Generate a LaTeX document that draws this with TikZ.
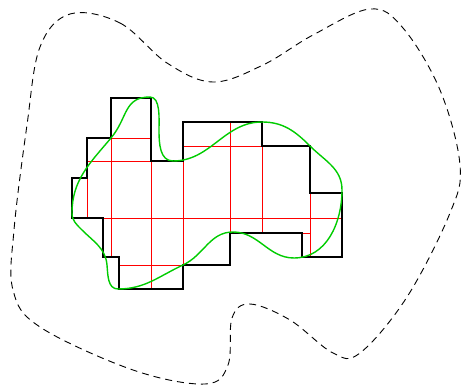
\documentclass[tikz,border=0pt]{standalone}
\usepackage{tikz}
\usetikzlibrary{calc}
\colorlet{curveGreen}{green!80!black}
\colorlet{cellRed}{red}

\begin{document}
\begin{tikzpicture}[x=1pt, y=1pt,
    outerdomain/.style={black, line width=0.9pt, dash pattern=on 7pt off 5pt},
    cellgrid/.style={cellRed, line width=0.7pt},
    cellunion/.style={black, line width=1.3pt, line join=miter},
    boundarycurve/.style={curveGreen, line width=1.4pt}]
    \useasboundingbox (0,0) rectangle (464,385);
    % outer domain
    \draw[outerdomain] plot[smooth cycle, tension=0.6] coordinates {
        (70,371) (120,362) (167,322) (213,303) (263,320) (313,350) (370,376)
        (403,357) (440,295) (460,220) (450,172) (407,88) (360,32) (333,32)
        (290,65) (250,81) (232,67) (228,20) (205,1) (133,15) (40,58)
        (13,95) (14,155) (27,260) (40,338)};
    % inner cell lines
    \draw[cellgrid] (87,224) -- (87,167)  (111,247) -- (111,128)  (151,247) -- (151,96)
        (183,239) -- (183,120)  (230,263) -- (230,152)  (262,239) -- (262,152)
        (310,192) -- (310,128)
        (111,247) -- (151,247)  (183,239) -- (310,239)  (87,224) -- (151,224)
        (72,167) -- (342,167)  (230,152) -- (310,152)  (119,120) -- (183,120);
    % union of cells
    \draw[cellunion] (111,287) -- (151,287) -- (151,224) -- (183,224) -- (183,263)
        -- (262,263) -- (262,239) -- (310,239) -- (310,192) -- (342,192)
        -- (342,128) -- (302,128) -- (302,152) -- (230,152) -- (230,120)
        -- (183,120) -- (183,96) -- (119,96) -- (119,128) -- (103,128)
        -- (103,167) -- (72,167) -- (72,207) -- (87,207) -- (87,247)
        -- (111,247) -- cycle;
    % boundary curve
    \draw[boundarycurve] (72,172) to[out=90, in=230] (111,247)
        to[out=50, in=180, looseness=1.2] (150,288)
        to[out=0, in=90, looseness=0.8] (159,255)
        to[out=-90, in=180] (173,224) to[out=0, in=180] (262,263)
        to[out=0, in=135] (310,239) to[out=-45, in=90] (342,195)
        to[out=-90, in=0] (294,127) to[out=180, in=0] (233,153)
        to[out=180, in=25] (183,120) to[out=205, in=0] (118,96)
        to[out=180, in=-85] (107,120) to[out=95, in=-45] (82,155)
        to[out=135, in=-90] cycle;
\end{tikzpicture}
\end{document}
